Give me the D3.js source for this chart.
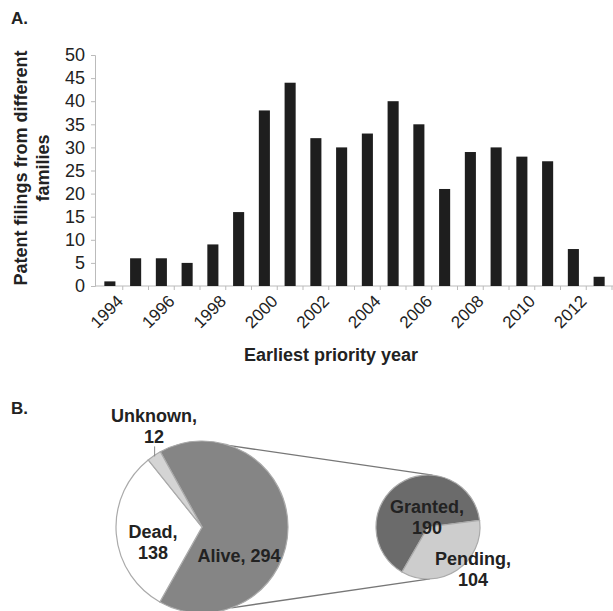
<!DOCTYPE html>
<html>
<head>
<meta charset="utf-8">
<script src="https://cdn.jsdelivr.net/npm/d3@7"></script>
<style>
  html, body { margin: 0; padding: 0; background: #fff; }
  svg { display: block; font-family: "Liberation Sans", Arial, sans-serif; }
</style>
</head>
<body>
<div id="container"></div>
<script>
const width = 613, height = 611;
const ink = "#222";

// Panel A: patent filings per earliest priority year
const years = d3.range(1994, 2014);
const filings = [1, 6, 6, 5, 9, 16, 38, 44, 32, 30, 33, 40, 35, 21, 29, 30, 28, 27, 8, 2];
const yTicks = [0, 5, 10, 15, 20, 25, 30, 35, 40, 45, 50];

// Panel B: legal status, and split of the alive families
const statusLabels = ["Alive", "Dead", "Unknown"];
const statusValues = [294, 138, 12];
const aliveLabels = ["Granted", "Pending"];
const aliveValues = [190, 104];

const svg = d3.select("#container").append("svg")
  .attr("width", width).attr("height", height);

// ---- Panel A ----
const x = d3.scaleBand().domain(years).range([97, 612])
  .paddingInner(0.57).paddingOuter(0.285);
const y = d3.scaleLinear().domain([0, 50]).range([286, 55]);

svg.append("text")
  .attr("x", 11).attr("y", 24)
  .attr("fill", ink).style("font-size", "17px").style("font-weight", "bold")
  .text("A.");

// y axis
const yAxis = svg.append("g")
  .attr("transform", "translate(95,0)")
  .call(d3.axisLeft(y).tickValues(yTicks).tickSize(4).tickPadding(6));
yAxis.select(".domain").attr("stroke", "#bbb");
yAxis.selectAll("line").attr("stroke", "#bbb");
yAxis.selectAll("text").attr("fill", ink)
  .style("font-size", "18px").style("font-family", "Liberation Sans, Arial, sans-serif");

// x axis line and category boundary ticks
svg.append("line")
  .attr("x1", 95).attr("x2", 613)
  .attr("y1", y(0)).attr("y2", y(0))
  .attr("stroke", "#bbb");
years.forEach(yr => {
  const bx = x(yr) + x.bandwidth() + x.step() * x.paddingInner() / 2;
  svg.append("line")
    .attr("x1", bx).attr("x2", bx)
    .attr("y1", y(0)).attr("y2", y(0) + 4)
    .attr("stroke", "#bbb");
});

// bars
svg.selectAll(".bar")
  .data(years)
  .join("rect")
  .attr("x", d => x(d))
  .attr("y", (d, i) => y(filings[i]))
  .attr("width", x.bandwidth())
  .attr("height", (d, i) => y(0) - y(filings[i]))
  .attr("fill", "#1e1e1e");

// x tick labels, every other year, rotated
svg.selectAll(".xlab")
  .data(years.filter((d, i) => i % 2 === 0))
  .join("text")
  .attr("transform", d => `translate(${x(d) + x.bandwidth() / 2 + 6},${y(0) + 8}) rotate(-45)`)
  .attr("text-anchor", "end")
  .attr("dy", "0.7em")
  .attr("fill", ink)
  .style("font-size", "17px")
  .text(d => d);

// axis titles
svg.append("text")
  .attr("x", 331).attr("y", 361)
  .attr("text-anchor", "middle")
  .attr("fill", ink).style("font-size", "18px").style("font-weight", "bold")
  .text("Earliest priority year");

const yTitle = svg.append("text")
  .attr("transform", "translate(0,168) rotate(-90)")
  .attr("text-anchor", "middle")
  .attr("fill", ink).style("font-size", "18px").style("font-weight", "bold");
yTitle.append("tspan").attr("x", 0).attr("y", 27).text("Patent filings from different");
yTitle.append("tspan").attr("x", 0).attr("y", 49).text("families");

// ---- Panel B ----
svg.append("text")
  .attr("x", 11).attr("y", 414)
  .attr("fill", ink).style("font-size", "17px").style("font-weight", "bold")
  .text("B.");

const deg = Math.PI / 180;
const big = { cx: 202, cy: 527, r: 86 };
const small = { cx: 428, cy: 527, r: 52 };

// connector lines between the two pies
const onCircle = (c, a) => [c.cx + c.r * Math.sin(a * deg), c.cy - c.r * Math.cos(a * deg)];
[[19, 5], [160, 178]].forEach(([a1, a2]) => {
  const p1 = onCircle(big, a1), p2 = onCircle(small, a2);
  svg.append("line")
    .attr("x1", p1[0]).attr("y1", p1[1])
    .attr("x2", p2[0]).attr("y2", p2[1])
    .attr("stroke", "#777").attr("stroke-width", 1.3);
});

const bigStart = -29 * deg;
const bigPie = d3.pie().sort(null).startAngle(bigStart).endAngle(bigStart + 2 * Math.PI);
const bigArc = d3.arc().innerRadius(0).outerRadius(big.r);
const bigColors = ["#858585", "#ffffff", "#d4d4d4"];
const bigArcs = bigPie(statusValues);

const gBig = svg.append("g").attr("transform", `translate(${big.cx},${big.cy})`);
gBig.selectAll("path")
  .data(bigArcs)
  .join("path")
  .attr("d", bigArc)
  .attr("fill", (d, i) => bigColors[i])
  .attr("stroke", "#aaa").attr("stroke-width", 1.2);

// leader for the Unknown slice
const unk = bigArcs[2];
const ua = (unk.startAngle + unk.endAngle) / 2;
gBig.append("line")
  .attr("x1", (big.r - 1) * Math.sin(ua)).attr("y1", -(big.r - 1) * Math.cos(ua))
  .attr("x2", (big.r - 1) * Math.sin(ua)).attr("y2", -(big.r - 1) * Math.cos(ua) - 10)
  .attr("stroke", "#888").attr("stroke-width", 1);

const label = (lines, lx, ly) => {
  const t = svg.append("text")
    .attr("text-anchor", "middle")
    .attr("fill", ink).style("font-size", "18px").style("font-weight", "bold");
  lines.forEach((s, i) => t.append("tspan").attr("x", lx).attr("y", ly + i * 21).text(s));
};

label([`${statusLabels[2]},`, `${statusValues[2]}`], 154, 422);
label([`${statusLabels[1]},`, `${statusValues[1]}`], 153, 538);
label([`${statusLabels[0]}, ${statusValues[0]}`], 239, 562);

const smallPie = d3.pie().sort(null).startAngle(-150 * deg).endAngle(-150 * deg + 2 * Math.PI);
const smallArc = d3.arc().innerRadius(0).outerRadius(small.r);
const smallColors = ["#6b6b6b", "#cdcdcd"];

svg.append("g").attr("transform", `translate(${small.cx},${small.cy})`)
  .selectAll("path")
  .data(smallPie(aliveValues))
  .join("path")
  .attr("d", smallArc)
  .attr("fill", (d, i) => smallColors[i])
  .attr("stroke", "#aaa").attr("stroke-width", 1.2);

label([`${aliveLabels[0]},`, `${aliveValues[0]}`], 427, 513);
label([`${aliveLabels[1]},`, `${aliveValues[1]}`], 473, 565);
</script>
</body>
</html>
